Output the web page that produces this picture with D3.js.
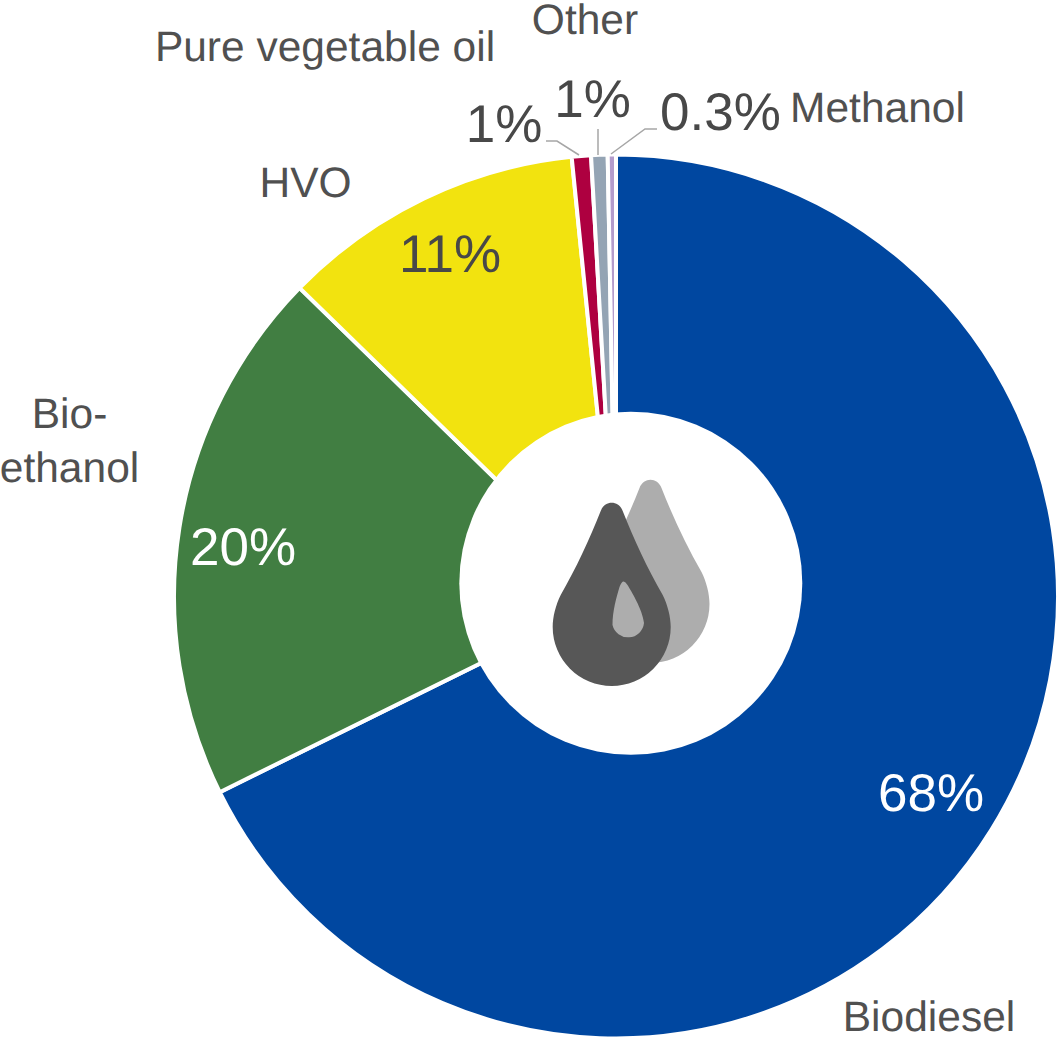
<!DOCTYPE html>
<html>
<head>
<meta charset="utf-8">
<title>Biofuel shares</title>
<script src="https://d3js.org/d3.v7.min.js"></script>
<style>
  html, body { margin: 0; padding: 0; background: #fff; }
  svg { display: block; }
  text { font-family: "Liberation Sans", Arial, sans-serif; text-rendering: geometricPrecision; }
</style>
</head>
<body>
<svg id="chart" width="1059" height="1038"></svg>
<script>
// values, labels as printed
const categories = ['Biodiesel', 'Bio-ethanol', 'HVO', 'Pure vegetable oil', 'Other', 'Methanol'];
const shares = [67.7, 19.6, 11.1, 0.7, 0.6, 0.3];
const shareLabels = ['68%', '20%', '11%', '1%', '1%', '0.3%'];
const colors = ['#0047a0', '#417e42', '#f2e30f', '#ae0040', '#94a4b4', '#b49ccc'];

const svg = d3.select('#chart');
const cx = 616, cy = 596.5, radius = 442;

const pie = d3.pie().sort(null).value(d => d);
const arc = d3.arc().innerRadius(0).outerRadius(radius);

const plot = svg.append('g').attr('transform', `translate(${cx},${cy})`);
plot.selectAll('path')
  .data(pie(shares))
  .join('path')
  .attr('d', arc)
  .attr('fill', (d, i) => colors[i])
  .attr('stroke', '#fff')
  .attr('stroke-width', 4);

// white hole sits a little off centre, same as the original
svg.append('circle')
  .attr('cx', 630.8).attr('cy', 583.3).attr('r', 171.5)
  .attr('fill', '#fff');

// leader lines for the three thin slices
const leaders = [
  [[546, 141], [557, 141], [579, 155]],
  [[598, 129], [598, 155]],
  [[657, 129], [645, 129], [611, 154]]
];
svg.selectAll('polyline')
  .data(leaders)
  .join('polyline')
  .attr('points', d => d.join(' '))
  .attr('fill', 'none')
  .attr('stroke', '#a6a6a6')
  .attr('stroke-width', 1.5);

// drop icon
const drop = 'M-11,-116 C-7,-127 7,-127 11,-116 C22,-88 36,-58 51,-32 C56,-22 59,-10 59,0 A59,59 0 0 1 -59,0 C-59,-10 -56,-22 -51,-32 C-36,-58 -22,-88 -11,-116 Z';
const innerDrop = 'M-9,-36 Q-5.5,-46 -1,-38 C2,-33 14,-14 15.5,0 A16,16 0 0 1 -16,2 C-16,-12 -12,-26 -9,-36 Z';
svg.append('path').attr('d', drop).attr('transform', 'translate(650.5,604)').attr('fill', '#adadad');
svg.append('path').attr('d', drop).attr('transform', 'translate(611.7,627)').attr('fill', '#575757');
svg.append('path').attr('d', innerDrop).attr('transform', 'translate(628.5,623)').attr('fill', '#adadad');

// category names, Bio-ethanol wraps on two lines
const nameText = [['Biodiesel'], ['Bio-', 'ethanol'], ['HVO'], ['Pure vegetable oil'], ['Other'], ['Methanol']];
const namePos = [[929, 1031], [69.5, 428], [305.5, 197], [325, 61], [585, 34], [877.5, 122]];
const nameLineGap = 54;

svg.append('g').selectAll('text')
  .data(categories)
  .join('text')
  .attr('x', (d, i) => namePos[i][0])
  .attr('y', (d, i) => namePos[i][1])
  .attr('text-anchor', 'middle')
  .attr('font-size', 42.5)
  .attr('fill', '#505050')
  .each(function (d, i) {
    d3.select(this).selectAll('tspan')
      .data(nameText[i])
      .join('tspan')
      .attr('x', namePos[i][0])
      .attr('dy', (t, j) => j ? nameLineGap : 0)
      .text(t => t);
  });

// percent labels
const sharePos = [[931, 811], [243, 565], [450, 272], [504, 142], [592.5, 117], [720.5, 130]];
const shareFill = ['#fff', '#fff', '#484848', '#484848', '#484848', '#484848'];

svg.append('g').selectAll('text')
  .data(shareLabels)
  .join('text')
  .attr('x', (d, i) => sharePos[i][0])
  .attr('y', (d, i) => sharePos[i][1])
  .attr('text-anchor', 'middle')
  .attr('font-size', 53)
  .attr('fill', (d, i) => shareFill[i])
  .text(d => d);
</script>
</body>
</html>
